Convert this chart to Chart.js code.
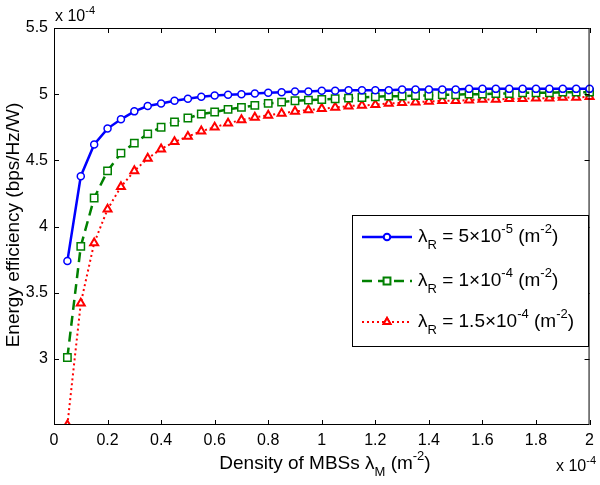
<!DOCTYPE html>
<html>
<head>
<meta charset="utf-8">
<script src="https://cdn.jsdelivr.net/npm/chart.js@4/dist/chart.umd.min.js"></script>
<style>
    html, body { margin: 0; padding: 0; background: #ffffff; }
    #wrap { width: 600px; height: 485px; position: relative; }
</style>
</head>
<body>
<div id="wrap"><canvas id="eeChart" width="600" height="485"></canvas></div>
<script>
// Densidad de MBSs (x 10^-4)
const densityValues = [0.05, 0.10, 0.15, 0.20, 0.25, 0.30, 0.35, 0.40, 0.45, 0.50,
    0.55, 0.60, 0.65, 0.70, 0.75, 0.80, 0.85, 0.90, 0.95, 1.00,
    1.05, 1.10, 1.15, 1.20, 1.25, 1.30, 1.35, 1.40, 1.45, 1.50,
    1.55, 1.60, 1.65, 1.70, 1.75, 1.80, 1.85, 1.90, 1.95, 2.00];

// lambda_R = 5e-5
const eeLambda5e5 = [3.74, 4.38, 4.62, 4.74, 4.81, 4.87, 4.91, 4.93, 4.95, 4.965,
    4.98, 4.99, 4.995, 5.00, 5.005, 5.01, 5.015, 5.02, 5.02, 5.025,
    5.025, 5.03, 5.03, 5.03, 5.03, 5.035, 5.035, 5.035, 5.035, 5.035,
    5.04, 5.04, 5.04, 5.04, 5.04, 5.04, 5.04, 5.04, 5.04, 5.04];

// lambda_R = 1e-4
const eeLambda1e4 = [3.01, 3.85, 4.215, 4.42, 4.555, 4.63, 4.70, 4.75, 4.79, 4.82,
    4.85, 4.865, 4.885, 4.90, 4.915, 4.93, 4.94, 4.95, 4.955, 4.96,
    4.965, 4.97, 4.975, 4.98, 4.985, 4.985, 4.99, 4.99, 4.995, 4.995,
    5.00, 5.00, 5.005, 5.005, 5.01, 5.01, 5.01, 5.015, 5.015, 5.015];

// lambda_R = 1.5e-4
const eeLambda15e4 = [2.50, 3.42, 3.875, 4.13, 4.30, 4.42, 4.515, 4.585, 4.64, 4.68,
    4.72, 4.75, 4.78, 4.805, 4.825, 4.84, 4.855, 4.87, 4.88, 4.89,
    4.90, 4.91, 4.915, 4.92, 4.93, 4.935, 4.94, 4.945, 4.95, 4.95,
    4.955, 4.96, 4.96, 4.965, 4.965, 4.97, 4.97, 4.975, 4.975, 4.98];

const xTickValues = [0, 0.2, 0.4, 0.6, 0.8, 1, 1.2, 1.4, 1.6, 1.8, 2];
const yTickValues = [3, 3.5, 4, 4.5, 5, 5.5];

const seriesLabels = [
    [['λ', 'n'], ['R', 'sub'], [' = 5×10', 'n'], ['-5', 'sup'], [' (m', 'n'], ['-2', 'sup'], [')', 'n']],
    [['λ', 'n'], ['R', 'sub'], [' = 1×10', 'n'], ['-4', 'sup'], [' (m', 'n'], ['-2', 'sup'], [')', 'n']],
    [['λ', 'n'], ['R', 'sub'], [' = 1.5×10', 'n'], ['-4', 'sup'], [' (m', 'n'], ['-2', 'sup'], [')', 'n']]
];

const FONT = '"Liberation Sans", Arial, sans-serif';
const blue = '#0000ff';
const green = '#008000';
const red = '#ff0000';

function toPoints(ys) {
    return densityValues.map((x, i) => ({ x: x, y: ys[i] }));
}

// Texto con subíndices / superíndices
function drawRich(ctx, parts, x, y, size, align) {
    const small = Math.round(size * 0.7);
    let total = 0;
    parts.forEach(p => {
        ctx.font = (p[1] === 'n' ? size : small) + 'px ' + FONT;
        total += ctx.measureText(p[0]).width;
    });
    let cx = align === 'center' ? x - total / 2 : x;
    ctx.textBaseline = 'middle';
    ctx.textAlign = 'left';
    parts.forEach(p => {
        let dy = 0;
        if (p[1] === 'sub') dy = size * 0.42;
        if (p[1] === 'sup') dy = -size * 0.38;
        ctx.font = (p[1] === 'n' ? size : small) + 'px ' + FONT;
        ctx.fillText(p[0], cx, y + dy);
        cx += ctx.measureText(p[0]).width;
    });
}

const decorPlugin = {
    id: 'decor',
    afterDraw(chart) {
        const ctx = chart.ctx;
        const a = chart.chartArea;
        const xs = chart.scales.x;
        const ys = chart.scales.y;
        ctx.save();
        ctx.strokeStyle = '#000';
        ctx.lineWidth = 1;
        ctx.setLineDash([]);
        ctx.strokeRect(a.left + 0.5, a.top + 0.5, a.right - a.left - 1, a.bottom - a.top - 1);

        // marcas hacia adentro
        const tl = 5;
        ctx.beginPath();
        xTickValues.forEach(v => {
            const px = Math.round(xs.getPixelForValue(v)) + 0.5;
            ctx.moveTo(px, a.bottom); ctx.lineTo(px, a.bottom - tl);
            ctx.moveTo(px, a.top); ctx.lineTo(px, a.top + tl);
        });
        yTickValues.forEach(v => {
            const py = Math.round(ys.getPixelForValue(v)) + 0.5;
            ctx.moveTo(a.left, py); ctx.lineTo(a.left + tl, py);
            ctx.moveTo(a.right, py); ctx.lineTo(a.right - tl, py);
        });
        ctx.stroke();

        ctx.fillStyle = '#000';
        // multiplicadores
        drawRich(ctx, [['x 10', 'n'], ['-4', 'sup']], 55, 17, 16, 'left');
        drawRich(ctx, [['x 10', 'n'], ['-4', 'sup']], 556, 467, 16, 'left');

        // títulos de ejes
        drawRich(ctx, [['Density of MBSs λ', 'n'], ['M', 'sub'], [' (m', 'n'], ['-2', 'sup'], [')', 'n']], 325, 464, 19, 'center');
        ctx.save();
        ctx.translate(14, 225);
        ctx.rotate(-Math.PI / 2);
        drawRich(ctx, [['Energy efficiency (bps/Hz/W)', 'n']], 0, 0, 19, 'center');
        ctx.restore();

        // leyenda
        const lx = 352, ly = 215, lw = 236, lh = 131;
        ctx.fillStyle = '#fff';
        ctx.fillRect(lx, ly, lw, lh);
        ctx.strokeStyle = '#000';
        ctx.strokeRect(lx + 0.5, ly + 0.5, lw, lh);
        const rows = [237, 281, 322];
        const legendRadius = [3, 4.5, 4];
        chart.data.datasets.forEach((ds, i) => {
            const yy = rows[i];
            ctx.strokeStyle = ds.borderColor;
            ctx.lineWidth = ds.borderWidth;
            ctx.setLineDash(ds.borderDash || []);
            ctx.beginPath();
            ctx.moveTo(362, yy); ctx.lineTo(412, yy);
            ctx.stroke();
            ctx.setLineDash([]);
            Chart.helpers.drawPoint(ctx, {
                pointStyle: ds.pointStyle,
                radius: legendRadius[i],
                borderWidth: ds.pointBorderWidth
            }, 387, yy);
            ctx.fillStyle = ds.pointBackgroundColor;
            ctx.strokeStyle = ds.pointBorderColor;
            ctx.lineWidth = ds.pointBorderWidth;
            ctx.fill();
            ctx.stroke();
            ctx.fillStyle = '#000';
            drawRich(ctx, seriesLabels[i], 418, yy, 19, 'left');
        });
        ctx.restore();
    }
};

new Chart(document.getElementById('eeChart'), {
    type: 'line',
    data: {
        datasets: [
            {
                data: toPoints(eeLambda5e5),
                borderColor: blue,
                borderWidth: 2.5,
                pointStyle: 'circle',
                pointRadius: 3.5,
                pointBorderWidth: 1.5,
                pointBackgroundColor: '#fff',
                pointBorderColor: blue,
                tension: 0,
                clip: { left: 10, right: 10, top: 10, bottom: 0 }
            },
            {
                data: toPoints(eeLambda1e4),
                borderColor: green,
                borderWidth: 2.5,
                borderDash: [10, 6],
                pointStyle: 'rect',
                pointRadius: 5.2,
                pointBorderWidth: 1.5,
                pointBackgroundColor: '#fff',
                pointBorderColor: green,
                tension: 0,
                clip: { left: 10, right: 10, top: 10, bottom: 0 }
            },
            {
                data: toPoints(eeLambda15e4),
                borderColor: red,
                borderWidth: 2,
                borderDash: [2, 3],
                pointStyle: 'triangle',
                pointRadius: 4.6,
                pointBorderWidth: 2,
                pointBackgroundColor: '#fff',
                pointBorderColor: red,
                tension: 0,
                clip: { left: 10, right: 10, top: 10, bottom: 0 }
            }
        ]
    },
    options: {
        responsive: false,
        animation: false,
        layout: { padding: { top: 28, right: 5, left: 0, bottom: 0 } },
        plugins: {
            legend: { display: false },
            tooltip: { enabled: false }
        },
        scales: {
            x: {
                type: 'linear',
                min: 0,
                max: 2,
                grid: { display: false, drawTicks: false },
                border: { display: false },
                afterBuildTicks: (scale) => { scale.ticks = xTickValues.map(v => ({ value: v })); },
                afterFit: (scale) => { scale.height = 60; },
                ticks: {
                    color: '#000',
                    padding: 6,
                    maxRotation: 0,
                    font: { family: FONT, size: 16 },
                    callback: (v) => String(Math.round(v * 10) / 10)
                }
            },
            y: {
                type: 'linear',
                min: 2.5,
                max: 5.5,
                grid: { display: false, drawTicks: false },
                border: { display: false },
                afterBuildTicks: (scale) => { scale.ticks = yTickValues.map(v => ({ value: v })); },
                afterFit: (scale) => { scale.width = 54; },
                ticks: {
                    color: '#000',
                    padding: 6,
                    font: { family: FONT, size: 16 },
                    callback: (v) => String(v)
                }
            }
        }
    },
    plugins: [decorPlugin]
});
</script>
</body>
</html>
